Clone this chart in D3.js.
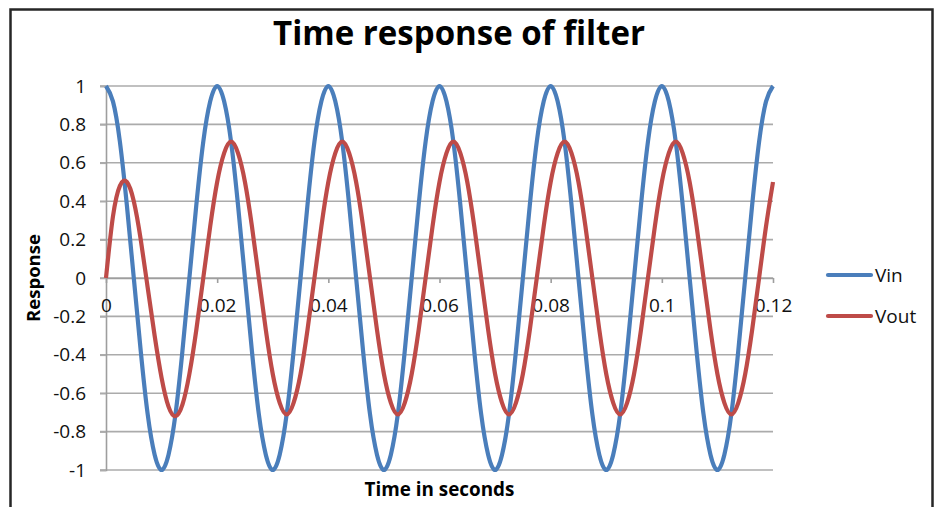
<!DOCTYPE html>
<html>
<head>
<meta charset="utf-8">
<script src="https://cdn.jsdelivr.net/npm/d3@7"></script>
<style>
  html, body { margin: 0; padding: 0; background: #fff; }
  svg { display: block; font-family: "Open Sans", Lato, sans-serif; }
</style>
</head>
<body>
<svg id="chart" width="938" height="507"></svg>
<script>
// ---- data ----
const timeStep = 0.00125; // seconds between samples
const vin = [
  1, 0.92, 0.71, 0.38, 0, -0.38, -0.71, -0.92, -1, -0.92, -0.71, -0.38, 0, 0.38, 0.71, 0.92,
  1, 0.92, 0.71, 0.38, 0, -0.38, -0.71, -0.92, -1, -0.92, -0.71, -0.38, 0, 0.38, 0.71, 0.92,
  1, 0.92, 0.71, 0.38, 0, -0.38, -0.71, -0.92, -1, -0.92, -0.71, -0.38, 0, 0.38, 0.71, 0.92,
  1, 0.92, 0.71, 0.38, 0, -0.38, -0.71, -0.92, -1, -0.92, -0.71, -0.38, 0, 0.38, 0.71, 0.92,
  1, 0.92, 0.71, 0.38, 0, -0.38, -0.71, -0.92, -1, -0.92, -0.71, -0.38, 0, 0.38, 0.71, 0.92,
  1, 0.92, 0.71, 0.38, 0, -0.38, -0.71, -0.92, -1, -0.92, -0.71, -0.38, 0, 0.38, 0.71, 0.92,
  1
];
const vout = [
  0, 0.32, 0.48, 0.50, 0.40, 0.20, -0.05, -0.30, -0.52, -0.67, -0.72, -0.66, -0.50, -0.27, 0, 0.27,
  0.50, 0.65, 0.71, 0.65, 0.50, 0.27, 0, -0.27, -0.50, -0.65, -0.71, -0.65, -0.50, -0.27, 0, 0.27,
  0.50, 0.65, 0.71, 0.65, 0.50, 0.27, 0, -0.27, -0.50, -0.65, -0.71, -0.65, -0.50, -0.27, 0, 0.27,
  0.50, 0.65, 0.71, 0.65, 0.50, 0.27, 0, -0.27, -0.50, -0.65, -0.71, -0.65, -0.50, -0.27, 0, 0.27,
  0.50, 0.65, 0.71, 0.65, 0.50, 0.27, 0, -0.27, -0.50, -0.65, -0.71, -0.65, -0.50, -0.27, 0, 0.27,
  0.50, 0.65, 0.71, 0.65, 0.50, 0.27, 0, -0.27, -0.50, -0.65, -0.71, -0.65, -0.50, -0.27, 0, 0.27,
  0.50
];
const xTicks = [0, 0.02, 0.04, 0.06, 0.08, 0.1, 0.12];
const xTickLabels = ["0", "0.02", "0.04", "0.06", "0.08", "0.1", "0.12"];
const yTicks = [1, 0.8, 0.6, 0.4, 0.2, 0, -0.2, -0.4, -0.6, -0.8, -1];
const yTickLabels = ["1", "0.8", "0.6", "0.4", "0.2", "0", "-0.2", "-0.4", "-0.6", "-0.8", "-1"];
const seriesNames = ["Vin", "Vout"];
const seriesColors = ["#4A7EBB", "#BE4B48"];
const chartTitle = "Time response of filter";
const xTitle = "Time in seconds";
const yTitle = "Response";

// ---- layout ----
const svg = d3.select("#chart");
const plot = { left: 106, right: 773, top: 86, bottom: 470 };

function fitText(sel, targetWidth) {
  const fs = parseFloat(sel.attr("font-size"));
  const w = sel.node().getComputedTextLength();
  if (w > 0) sel.attr("font-size", (fs * targetWidth / w).toFixed(2));
  return sel;
}

svg.append("rect")
  .attr("x", 10.5).attr("y", 9.5).attr("width", 922).attr("height", 600)
  .attr("fill", "#fff").attr("stroke", "#262626").attr("stroke-width", 2.5);

const x = d3.scaleLinear().domain([0, 0.12]).range([plot.left, plot.right]);
const y = d3.scaleLinear().domain([-1, 1]).range([plot.bottom, plot.top]);

// gridlines
svg.append("g").selectAll("line").data(yTicks).join("line")
  .attr("x1", plot.left - 6).attr("x2", plot.right)
  .attr("y1", d => y(d)).attr("y2", d => y(d))
  .attr("stroke", "#ababab").attr("stroke-width", 1.6);

// y axis
const yAxis = d3.axisLeft(y).tickValues(yTicks)
  .tickFormat((d, i) => yTickLabels[i]).tickSize(6).tickPadding(14);
const gy = svg.append("g").attr("transform", `translate(${plot.left},0)`).call(yAxis);
gy.select(".domain").attr("stroke", "#9e9e9e").attr("stroke-width", 1.6);
gy.selectAll(".tick line").attr("stroke", "#ababab").attr("stroke-width", 1.6);
gy.selectAll("text").attr("font-size", 19).attr("fill", "#111").attr("font-family", "'Open Sans', sans-serif");

// x axis at y = 0
const xAxis = d3.axisBottom(x).tickValues(xTicks)
  .tickFormat((d, i) => xTickLabels[i]).tickSize(5).tickPadding(16).tickSizeOuter(0);
const gx = svg.append("g").attr("transform", `translate(0,${y(0)})`).call(xAxis);
gx.select(".domain").attr("stroke", "#9e9e9e").attr("stroke-width", 1.6);
gx.selectAll(".tick line").attr("stroke", "#9e9e9e").attr("stroke-width", 1.6);
gx.selectAll("text").attr("font-size", 19).attr("fill", "#111").attr("font-family", "'Open Sans', sans-serif");

// series
const line = d3.line()
  .x((d, i) => x(i * timeStep))
  .y(d => y(d))
  .curve(d3.curveNatural);
[vin, vout].forEach((s, k) => {
  svg.append("path").datum(s)
    .attr("d", line)
    .attr("fill", "none")
    .attr("stroke", seriesColors[k])
    .attr("stroke-width", 4.2)
    .attr("stroke-linejoin", "round");
});

// titles
fitText(svg.append("text").attr("x", 459).attr("y", 45)
  .attr("text-anchor", "middle").attr("font-size", 31).attr("font-weight", 700)
  .attr("fill", "#000").text(chartTitle), 372);
fitText(svg.append("text").attr("x", (plot.left + plot.right) / 2).attr("y", 496)
  .attr("text-anchor", "middle").attr("font-size", 19).attr("font-weight", 700)
  .attr("fill", "#000").text(xTitle), 150);
fitText(svg.append("text")
  .attr("transform", `translate(40,${(plot.top + plot.bottom) / 2}) rotate(-90)`)
  .attr("text-anchor", "middle").attr("font-size", 19).attr("font-weight", 700)
  .attr("fill", "#000").text(yTitle), 88);

// legend
const legend = svg.append("g");
seriesNames.forEach((name, k) => {
  const ly = 275 + k * 41;
  legend.append("line").attr("x1", 828).attr("x2", 871).attr("y1", ly).attr("y2", ly)
    .attr("stroke", seriesColors[k]).attr("stroke-width", 4.2).attr("stroke-linecap", "round");
  legend.append("text").attr("x", 875).attr("y", ly).attr("dy", "0.35em")
    .attr("font-size", 19).attr("fill", "#111").text(name);
});
</script>
</body>
</html>
